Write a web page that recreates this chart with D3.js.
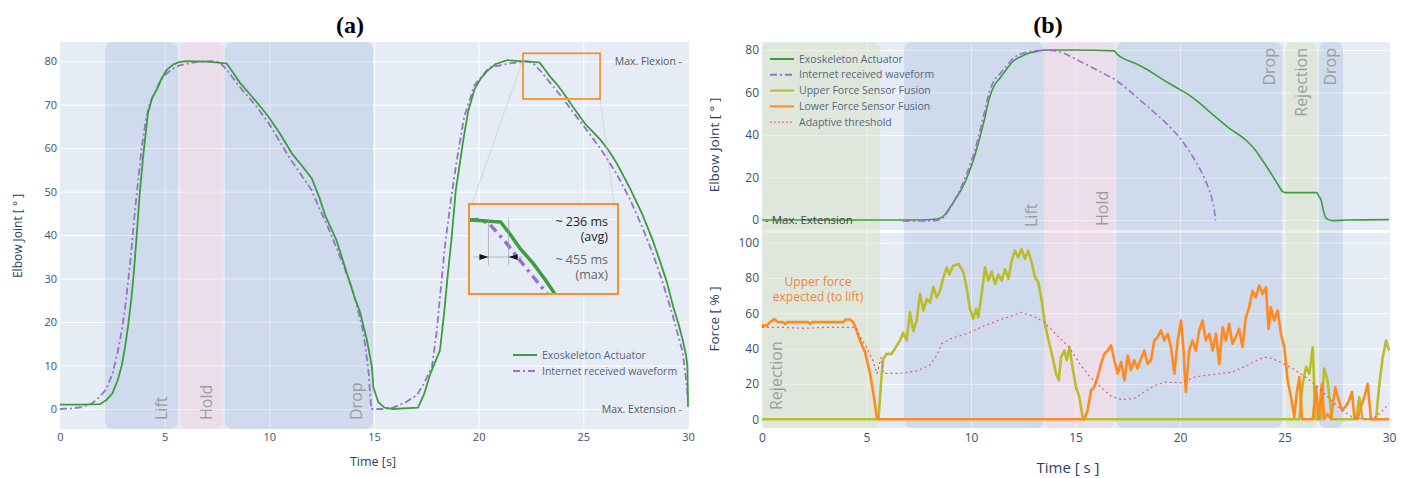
<!DOCTYPE html>
<html>
<head>
<meta charset="utf-8">
<script src="https://cdn.jsdelivr.net/npm/d3@7"></script>
<style>
  body { margin: 0; background: #fff; }
  text { font-family: "Open Sans", sans-serif; }
</style>
</head>
<body>
<div id="chart"></div>
<script>
// ---------- data (a): elbow angle, [time s, degrees] ----------
var aExo = [[0,1],[1,1],[1.9,1.1],[2.2,2],[2.5,3.6],[2.75,6.5],[2.95,10],[3.1,14],[3.25,19],[3.4,25],[3.52,31],[3.65,39],[3.8,49],[3.97,58],[4.2,68],[4.4,71.5],[4.63,73.5],[4.85,76],[5.1,78],[5.4,79.2],[5.65,79.7],[6.0,80],[7.0,79.9],[7.95,79.5],[8.25,77.5],[8.6,75],[9.2,71.7],[9.9,67.6],[10.5,63.4],[11.07,58.8],[11.55,56],[12.03,53],[12.4,48.5],[12.66,44.6],[13.2,38.9],[13.7,31.3],[14.05,26],[14.33,22.3],[14.66,15.9],[14.9,9.7],[14.97,5],[15.2,1.6],[15.5,0.3],[15.9,0],[17.1,0.3],[17.4,3.5],[17.7,8.2],[18.15,13.5],[18.35,22],[18.5,29.7],[18.7,39],[18.9,50],[19.27,62],[19.5,68.5],[19.8,73.5],[20.1,76],[20.4,77.7],[20.8,79.3],[21.35,80.2],[22.0,80],[22.9,79.7],[23.1,78.5],[23.4,76.5],[23.7,74.9],[24.0,73],[24.5,69.5],[25.1,65.5],[25.8,62],[26.2,59.5],[26.6,56.5],[27.2,51],[27.8,45],[28.3,39],[28.66,34],[29.0,29],[29.3,23.4],[29.55,19.5],[29.75,15.8],[29.9,12.5],[29.97,10],[30,0.5]];
var aNet = [[0,0],[0.5,0.1],[1.0,0.4],[1.5,1.2],[1.9,2.8],[2.2,4.5],[2.5,8],[2.75,13],[2.95,18],[3.1,23],[3.25,29],[3.4,36],[3.55,44],[3.7,51],[3.9,60],[4.1,66.5],[4.3,70.5],[4.55,73],[4.8,75.5],[5.1,77.2],[5.4,78.3],[5.7,79],[6.5,79.8],[7.3,80],[7.65,79.7],[8.0,77.8],[8.6,74],[9.4,69.5],[10.0,65.5],[10.5,61.5],[11.0,57.5],[11.5,54],[12.0,50.5],[12.4,46],[12.7,43],[13.3,36],[13.7,31],[14.0,27],[14.3,21.5],[14.5,17.5],[14.65,12],[14.75,8],[14.82,3],[14.87,0],[15.4,0],[15.9,0.3],[16.5,1.5],[17.05,3.2],[17.4,6],[17.77,9.7],[18.0,18],[18.15,25.7],[18.4,38],[18.7,49],[18.95,57],[19.3,67],[19.8,74.5],[20.5,78.5],[21.5,79.5],[22.3,80],[22.6,79.6],[23.0,77.5],[23.5,74.5],[24.0,71.6],[24.5,68.3],[25.0,65.2],[25.8,60],[26.6,54],[27.2,48.5],[27.8,42],[28.3,36],[28.8,29],[29.3,21],[29.75,13],[29.95,5],[30,1.5]];
var aPhases = [
  {label: "Lift", t0: 2.15, t1: 5.64, kind: "blue"},
  {label: "Hold", t0: 5.74, t1: 7.8, kind: "pink"},
  {label: "Drop", t0: 7.87, t1: 14.96, kind: "blue"}
];
var aZoomBox = {t0: 22.12, t1: 25.8, v0: 71.3, v1: 81.8};
var aDelayMarks = [22.6, 23.1];
var aYTicks = [0,10,20,30,40,50,60,70,80];

// ---------- data (b): elbow angle and force ----------
var bExo = [[0,0],[7.5,0],[8.4,0.5],[8.7,2],[9.0,6],[9.3,10.5],[9.6,15.5],[9.95,23.5],[10.3,34.4],[10.6,45.6],[10.9,58],[11.1,63],[11.4,67],[11.7,71],[12.0,74.6],[12.4,77],[12.8,78.6],[13.2,79.5],[13.6,80],[15,80],[16.85,79.6],[17.0,78],[17.3,76],[17.8,74],[18.4,71],[19.2,66],[19.8,62.5],[20.4,59],[21.0,54.5],[21.6,49.4],[22.35,43.3],[23.15,37.6],[23.6,33],[23.95,28],[24.35,22],[24.7,16.5],[24.9,13.5],[25.05,12.9],[26.55,12.9],[26.65,11],[26.75,9.5],[26.85,5],[26.95,1.5],[27.1,0.2],[27.3,-0.3],[28,0],[30,0.2]];
var bNet = [[6.75,-0.5],[8.3,-0.3],[8.7,1.5],[9.0,5.5],[9.3,11],[9.6,17],[9.95,26],[10.3,37],[10.6,49],[10.9,61],[11.1,65.5],[11.4,69],[11.7,72.5],[12.0,76],[12.4,78.2],[12.8,79.3],[13.2,79.8],[13.6,80],[13.9,79.8],[14.4,78.6],[15.0,75.8],[15.65,72.5],[16.3,69.2],[16.9,66],[17.5,61.5],[18.2,55.5],[18.9,49.5],[19.5,44],[20.0,38.5],[20.3,34.5],[20.6,30],[20.9,25],[21.2,19],[21.4,14],[21.55,9],[21.65,4],[21.7,-0.3]];
var bUpper = [[0,0],[5.57,0],[5.73,26],[5.8,34],[5.96,37],[6.2,37],[6.36,40],[6.6,44.6],[6.76,49],[6.92,44.6],[7.08,60.6],[7.24,50],[7.4,56],[7.56,71],[7.72,61.6],[7.88,68],[8.04,66],[8.2,75],[8.36,69],[8.52,72.8],[8.68,80.4],[8.84,86],[8.96,82],[9.15,87],[9.4,88],[9.63,83.5],[9.79,74.7],[9.95,62.5],[10.11,56.8],[10.24,62.5],[10.35,57.8],[10.51,71],[10.67,86],[10.83,78.5],[10.99,83.5],[11.15,76.6],[11.31,82],[11.47,78.5],[11.63,85],[11.79,79.5],[11.95,89.8],[12.1,95.5],[12.26,91.7],[12.42,96.4],[12.58,90.8],[12.74,95.5],[12.9,89],[13.06,80.4],[13.22,77.6],[13.38,67.3],[13.54,54],[13.7,45],[13.83,38.9],[14.07,25.8],[14.2,22],[14.31,35.2],[14.47,38.9],[14.58,33.4],[14.71,40.8],[14.83,31.4],[15.02,18.3],[15.18,12.6],[15.34,1.3],[15.42,0],[25.71,0],[25.87,20],[26.03,29.6],[26.19,25.8],[26.35,40.8],[26.48,0],[26.75,0],[26.9,28.7],[27.06,22],[27.27,0],[28.42,0],[28.58,12.6],[28.74,0],[29.38,0],[29.54,20],[29.7,35],[29.86,44.6],[30,38.9]];
var bLower = [[0,53],[0.22,53],[0.46,55.6],[0.6,56.7],[0.75,55],[1.0,55],[1.1,54],[1.2,55],[2.2,55],[2.3,54],[2.4,55],[3.9,55],[4.0,56.5],[4.2,56.5],[4.37,55],[4.53,50],[4.69,44.6],[4.93,38],[5.17,25.9],[5.33,14.5],[5.49,1.3],[5.57,0],[15.42,0],[15.58,5],[15.74,16.3],[15.9,18.3],[16.06,23.9],[16.22,31.4],[16.38,37],[16.54,38.9],[16.7,41.8],[16.86,33.4],[17.02,25.8],[17.18,32.4],[17.34,22],[17.5,36],[17.65,27.7],[17.81,33.4],[17.97,28.7],[18.13,34.3],[18.29,38.9],[18.45,31.4],[18.61,33.4],[18.77,44.6],[18.93,46.5],[19.09,50.3],[19.25,44.6],[19.41,48.4],[19.57,40.8],[19.73,25.8],[19.89,44.6],[20.05,55.9],[20.17,38.9],[20.28,15.4],[20.44,38.9],[20.6,44.6],[20.76,38.9],[20.92,50.3],[21.08,55.9],[21.24,44.6],[21.4,48.4],[21.56,38.9],[21.72,48.4],[21.88,31.4],[22.04,52.2],[22.2,44.6],[22.35,54],[22.51,42.7],[22.67,46.5],[22.83,51.2],[22.99,40.8],[23.15,57.8],[23.31,63.4],[23.47,72.8],[23.63,69],[23.79,75.7],[23.95,71],[24.11,74.7],[24.24,51.2],[24.35,63.4],[24.51,55.9],[24.67,61.6],[24.83,48.4],[24.99,40.8],[25.15,22],[25.31,12.6],[25.47,1.3],[25.58,14.5],[25.71,23.9],[25.84,0],[26.35,0],[26.51,18.3],[26.63,0],[26.79,20],[26.9,0],[27.06,3],[27.22,0],[27.43,18],[27.59,11],[27.75,5],[27.91,7],[28.07,10],[28.23,15.4],[28.34,1.3],[28.5,0],[28.66,7],[28.82,12.6],[28.98,20],[29.14,0],[30,0]];
var bThreshold = [[0,52],[1,52],[2,51.5],[3,52],[4.5,52],[4.7,46.5],[5.0,40.8],[5.3,33.4],[5.5,25.8],[5.7,35],[5.8,26],[6.0,26],[6.6,26],[7.4,27.3],[8.0,30.4],[8.36,36],[8.6,42.7],[9.1,46],[9.8,48.4],[10.5,52.2],[11.3,56],[12.0,58.7],[12.4,60.6],[13.0,58.3],[13.5,55],[14.2,46.5],[14.7,40.8],[15.2,31.4],[15.7,23.9],[16.2,18.3],[16.7,13],[17.2,11.1],[17.8,11.7],[18.3,15.4],[18.8,19.2],[19.3,21],[20.1,20.7],[20.7,23.9],[21.6,25.4],[22.5,26.7],[23.2,30.4],[23.8,34.2],[24.2,35.2],[24.8,32.4],[25.4,28.7],[26.0,23.9],[26.6,18.3],[27.2,11.1],[27.8,4.5],[28.3,0.8],[29.0,0],[29.3,0.8],[29.7,5],[30,9]];
var bPhases = [
  {label: "Rejection", t0: 0, t1: 5.65, kind: "green"},
  {label: "Lift", t0: 6.8, t1: 13.5, kind: "blue"},
  {label: "Hold", t0: 13.5, t1: 16.9, kind: "pink"},
  {label: "Drop", t0: 16.95, t1: 24.9, kind: "blue"},
  {label: "Rejection", t0: 25.0, t1: 26.55, kind: "green"},
  {label: "Drop", t0: 26.65, t1: 27.8, kind: "blue"}
];
var bAngleTicks = [0,20,40,60,80];
var bForceTicks = [0,20,40,60,80,100];
var timeTicks = [0,5,10,15,20,25,30];

// ---------- styles ----------
var bg = "#e5ecf6", tickColor = "#3d4f6a", labelColor = "#2a3f5f";
var phaseFill = {blue: "rgba(63,111,168,0.13)", pink: "rgba(247,195,208,0.35)", green: "rgba(218,226,196,0.5)"};
var green = "#3a9e3a", purple = "#9b6fcf", olive = "#b9bd2a", orange = "#ff8a1f", thresh = "#e25c6c";
var dashDot = "7,3,2,3";

var svg = d3.select("#chart").append("svg")
    .attr("width", 1406)
    .attr("height", 478);

// scales
var xA = d3.scaleLinear().domain([0, 30]).range([60, 688]);
var yA = d3.scaleLinear().domain([-4.6, 84.4]).range([429, 42]);
var xB = d3.scaleLinear().domain([0, 30]).range([762, 1389]);
var yBT = d3.scaleLinear().domain([-4.7, 83.8]).range([230, 42]);
var yBB = d3.scaleLinear().domain([-5, 105.5]).range([428, 233]);

// background + grid for one subplot
function plotBg(x, y, yTicks, fs, pad) {
  var x0 = x.range()[0], x1 = x.range()[1], y0 = y.range()[1], y1 = y.range()[0];
  svg.append("rect").attr("x", x0).attr("y", y0)
    .attr("width", x1 - x0 + 1).attr("height", y1 - y0).attr("fill", bg);
  var gx = svg.append("g").attr("transform", "translate(0," + y1 + ")")
    .call(d3.axisBottom(x).tickValues([5,10,15,20,25]).tickSize(-(y1 - y0)).tickFormat(""));
  gx.select(".domain").remove();
  gx.selectAll("line").attr("stroke", "#fff").attr("stroke-width", 1);
  var gy = svg.append("g").attr("transform", "translate(" + x0 + ",0)")
    .call(d3.axisLeft(y).tickValues(yTicks).tickSize(-(x1 - x0)).tickPadding(pad));
  gy.select(".domain").remove();
  gy.selectAll("line").attr("stroke", "#fff").attr("stroke-width", 1);
  gy.selectAll("text").attr("fill", tickColor).style("font-size", fs + "px").style("font-family", "Open Sans");
}

function timeAxis(x, yPos, fs, pad) {
  var g = svg.append("g").attr("transform", "translate(0," + yPos + ")")
    .call(d3.axisBottom(x).tickValues(timeTicks).tickSize(0).tickPadding(pad));
  g.select(".domain").remove();
  g.selectAll("text").attr("fill", tickColor).style("font-size", fs + "px").style("font-family", "Open Sans");
}

function phases(data, x, yTop, yBot) {
  svg.append("g").selectAll("rect")
    .data(data).enter().append("rect")
    .attr("x", function(d) { return x(d.t0); })
    .attr("y", yTop)
    .attr("width", function(d) { return x(d.t1) - x(d.t0); })
    .attr("height", yBot - yTop)
    .attr("rx", 8)
    .attr("fill", function(d) { return phaseFill[d.kind]; });
}

function phaseLabel(text, px, py, anchor) {
  svg.append("text")
    .attr("transform", "translate(" + px + "," + py + ") rotate(-90)")
    .attr("text-anchor", anchor)
    .attr("fill", "#9d9d9d")
    .style("font-size", "16px")
    .text(text);
}

function curve(g, data, x, y, color, w, dash, smooth) {
  var line = d3.line().x(function(d) { return x(d[0]); }).y(function(d) { return y(d[1]); });
  if (smooth) line.curve(d3.curveMonotoneX);
  var p = g.append("path")
    .datum(data)
    .attr("fill", "none")
    .attr("stroke", color)
    .attr("stroke-width", w)
    .attr("stroke-linejoin", "round")
    .attr("d", line);
  if (dash) p.attr("stroke-dasharray", dash);
  return p;
}

function legend(items, lx, ly, step) {
  items.forEach(function(it, i) {
    var yy = ly + i * step;
    var l = svg.append("line").attr("x1", lx).attr("x2", lx + 24).attr("y1", yy).attr("y2", yy)
      .attr("stroke", it.color).attr("stroke-width", it.w || 2);
    if (it.dash) l.attr("stroke-dasharray", it.dash);
    svg.append("text").attr("x", lx + 29).attr("y", yy).attr("dy", "0.35em")
      .attr("fill", "#55657d").style("font-size", "10.5px").text(it.name);
  });
}

// ======================= panel (a) =======================
plotBg(xA, yA, aYTicks, 11, 3);
timeAxis(xA, 429, 11, 4);
phases(aPhases, xA, 42, 429);
aPhases.forEach(function(d) { phaseLabel(d.label, xA(d.t1) - 11, 420, "start"); });

var gA = svg.append("g");
curve(gA, aNet, xA, yA, purple, 1.8, dashDot);
curve(gA, aExo, xA, yA, green, 1.8);

svg.append("text").attr("x", 350).attr("y", 33).attr("text-anchor", "middle")
  .style("font-family", "Liberation Serif").style("font-size", "24px").style("font-weight", "bold")
  .text("(a)");

svg.append("text").attr("transform", "translate(22,236) rotate(-90)").attr("text-anchor", "middle")
  .attr("fill", labelColor).style("font-size", "12px").text("Elbow Joint [ ° ]");
svg.append("text").attr("x", 373).attr("y", 466).attr("text-anchor", "middle")
  .attr("fill", labelColor).style("font-size", "12.5px").text("Time [s]");

svg.append("text").attr("x", 682).attr("y", yA(80)).attr("dy", "0.35em").attr("text-anchor", "end")
  .attr("fill", "#555").style("font-size", "10.5px").text("Max. Flexion -");
svg.append("text").attr("x", 682).attr("y", yA(0)).attr("dy", "0.35em").attr("text-anchor", "end")
  .attr("fill", "#555").style("font-size", "10.5px").text("Max. Extension -");

legend([
  {name: "Exoskeleton Actuator", color: green},
  {name: "Internet received waveform", color: purple, dash: dashDot}
], 513, 355, 16);

// zoom rectangle + inset
var zr = {x: xA(aZoomBox.t0), y: yA(aZoomBox.v1), w: xA(aZoomBox.t1) - xA(aZoomBox.t0), h: yA(aZoomBox.v0) - yA(aZoomBox.v1)};
var inset = {x: 469, y: 204, w: 149, h: 90};
var xI = d3.scaleLinear().domain([aZoomBox.t0, aZoomBox.t1]).range([inset.x, inset.x + inset.w]);
var yI = d3.scaleLinear().domain([aZoomBox.v0, aZoomBox.v1]).range([inset.y + inset.h, inset.y]);

svg.append("line").attr("x1", zr.x).attr("y1", zr.y + 6).attr("x2", inset.x + 3).attr("y2", inset.y)
  .attr("stroke", "#c4c8d0").attr("stroke-width", 0.6);
svg.append("line").attr("x1", zr.x + zr.w).attr("y1", zr.y + zr.h).attr("x2", inset.x + inset.w - 4).attr("y2", inset.y)
  .attr("stroke", "#c4c8d0").attr("stroke-width", 0.6);

svg.append("rect").attr("x", zr.x).attr("y", zr.y).attr("width", zr.w).attr("height", zr.h)
  .attr("fill", "none").attr("stroke", "#f5922f").attr("stroke-width", 1.8);

svg.append("defs").append("clipPath").attr("id", "insetClip")
  .append("rect").attr("x", inset.x).attr("y", inset.y).attr("width", inset.w).attr("height", inset.h);
svg.append("rect").attr("x", inset.x).attr("y", inset.y).attr("width", inset.w).attr("height", inset.h)
  .attr("fill", bg);
var gI = svg.append("g").attr("clip-path", "url(#insetClip)");
gI.append("line").attr("x1", inset.x).attr("x2", inset.x + inset.w).attr("y1", yI(80)).attr("y2", yI(80))
  .attr("stroke", "#fff").attr("stroke-width", 1);
curve(gI, aNet, xI, yI, purple, 3.5, "9,5,3,5");
curve(gI, aExo, xI, yI, green, 3.5);

// delay marker
aDelayMarks.forEach(function(t) {
  svg.append("line").attr("x1", xI(t)).attr("x2", xI(t)).attr("y1", inset.y + 14).attr("y2", inset.y + 61)
    .attr("stroke", "#9aa0aa").attr("stroke-width", 0.7);
});
var ay = inset.y + 53;
svg.append("line").attr("x1", inset.x + 4).attr("x2", xI(aDelayMarks[1]) + 14).attr("y1", ay).attr("y2", ay)
  .attr("stroke", "#9aa0aa").attr("stroke-width", 0.7);
var tipL = xI(aDelayMarks[0]), tipR = xI(aDelayMarks[1]);
svg.append("path").attr("d", "M" + tipL + "," + ay + "L" + (tipL - 9) + "," + (ay - 3) + "L" + (tipL - 9) + "," + (ay + 3) + "Z").attr("fill", "#111");
svg.append("path").attr("d", "M" + tipR + "," + ay + "L" + (tipR + 9) + "," + (ay - 3) + "L" + (tipR + 9) + "," + (ay + 3) + "Z").attr("fill", "#111");

var insetText = [["~ 236 ms", 22, "#222"], ["(avg)", 37, "#222"], ["~ 455 ms", 60, "#666"], ["(max)", 75, "#666"]];
insetText.forEach(function(d) {
  svg.append("text").attr("x", inset.x + inset.w - 10).attr("y", inset.y + d[1])
    .attr("text-anchor", "end").attr("fill", d[2]).style("font-size", "12.5px").text(d[0]);
});
svg.append("rect").attr("x", inset.x).attr("y", inset.y).attr("width", inset.w).attr("height", inset.h)
  .attr("fill", "none").attr("stroke", "#f5922f").attr("stroke-width", 2);

// ======================= panel (b) =======================
plotBg(xB, yBT, bAngleTicks, 12, 3);
plotBg(xB, yBB, bForceTicks, 12, 3);
timeAxis(xB, 428, 12, 5);
phases(bPhases, xB, 42, 428);

// phase labels: first Rejection in force plot, Lift/Hold at bottom of angle plot, rest at top
phaseLabel(bPhases[0].label, xB(bPhases[0].t0) + 20, 410, "start");
phaseLabel(bPhases[1].label, xB(bPhases[1].t1) - 7, 227, "start");
phaseLabel(bPhases[2].label, xB(bPhases[2].t1) - 7, 226, "start");
phaseLabel(bPhases[3].label, xB(bPhases[3].t1) - 7, 48, "end");
phaseLabel(bPhases[4].label, xB(bPhases[4].t1) - 10, 48, "end");
phaseLabel(bPhases[5].label, xB(bPhases[5].t1) - 7, 48, "end");

var gBT = svg.append("g");
curve(gBT, bExo, xB, yBT, green, 1.6, null, true);
curve(gBT, bNet, xB, yBT, purple, 1.6, dashDot, true);

var gBB = svg.append("g");
curve(gBB, bUpper, xB, yBB, olive, 2.6);
curve(gBB, bLower, xB, yBB, orange, 2.6);
curve(gBB, bThreshold, xB, yBB, thresh, 1.2, "2,3");

svg.append("text").attr("x", 765).attr("y", yBT(0)).attr("dy", "0.35em")
  .attr("fill", "#444").style("font-size", "11.5px").text("- Max. Extension");

svg.append("text").attr("x", 818).attr("y", 286).attr("text-anchor", "middle")
  .attr("fill", "#e8873a").style("font-size", "12px").text("Upper force");
svg.append("text").attr("x", 818).attr("y", 301).attr("text-anchor", "middle")
  .attr("fill", "#e8873a").style("font-size", "12px").text("expected (to lift)");

legend([
  {name: "Exoskeleton Actuator", color: green},
  {name: "Internet received waveform", color: purple, dash: dashDot},
  {name: "Upper Force Sensor Fusion", color: olive},
  {name: "Lower Force Sensor Fusion", color: orange},
  {name: "Adaptive threshold", color: "#ec8a94", dash: "2,2", w: 1.5}
], 770, 59, 15.8);

svg.append("text").attr("x", 1048).attr("y", 33).attr("text-anchor", "middle")
  .style("font-family", "Liberation Serif").style("font-size", "24px").style("font-weight", "bold")
  .text("(b)");

svg.append("text").attr("transform", "translate(719,145) rotate(-90)").attr("text-anchor", "middle")
  .attr("fill", labelColor).style("font-size", "13.5px").text("Elbow Joint [ ° ]");
svg.append("text").attr("transform", "translate(719,319) rotate(-90)").attr("text-anchor", "middle")
  .attr("fill", labelColor).style("font-size", "13.5px").text("Force [ % ]");
svg.append("text").attr("x", 1068).attr("y", 473).attr("text-anchor", "middle")
  .attr("fill", labelColor).style("font-size", "15px").text("Time [ s ]");
</script>
</body>
</html>
